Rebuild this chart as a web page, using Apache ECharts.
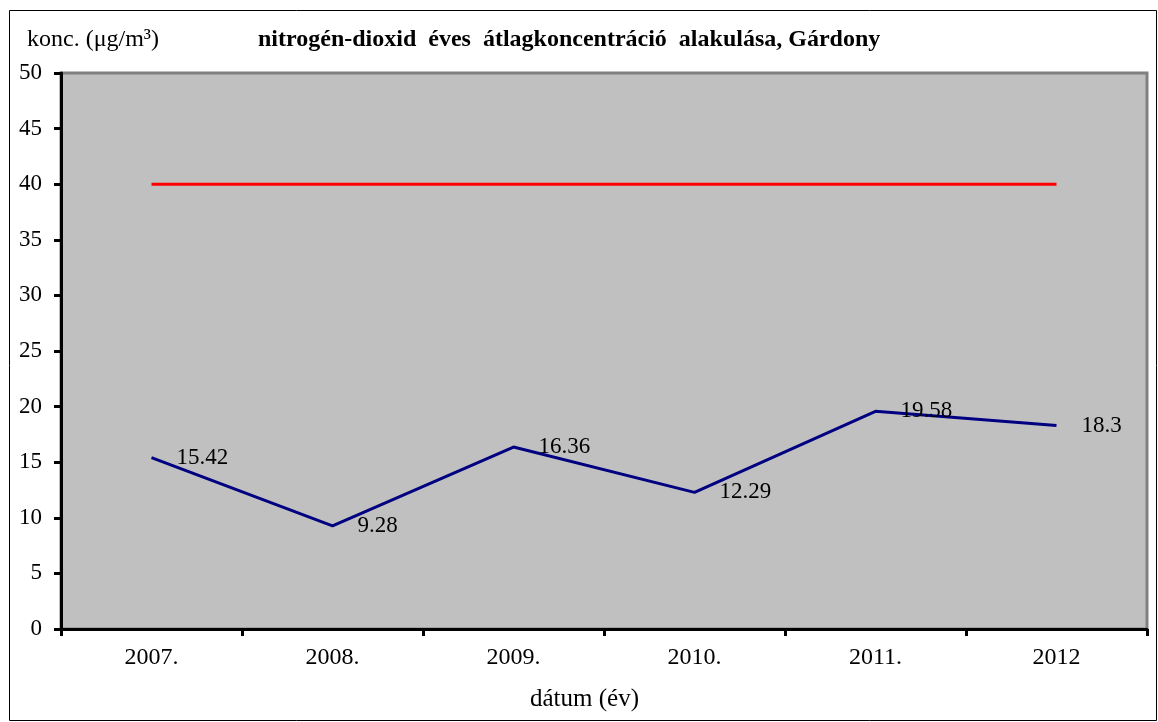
<!DOCTYPE html>
<html><head><meta charset="utf-8">
<script src="https://cdn.jsdelivr.net/npm/echarts@6/dist/echarts.min.js"></script>
<style>html,body{margin:0;padding:0;background:#fff}#c{width:1158px;height:722px}</style>
</head><body><div id="c"></div>
<script>
var categories = ['2007.', '2008.', '2009.', '2010.', '2011.', '2012'];
var no2Values = [15.42, 9.28, 16.36, 12.29, 19.58, 18.3];
var limitValues = [40, 40, 40, 40, 40, 40];
var yMin = 0, yMax = 50, yStep = 5;
var titleText = 'nitrogén-dioxid\u00a0 éves\u00a0 átlagkoncentráció\u00a0 alakulása, Gárdony';
var yName = 'konc. (μg/m³)';
var xName = 'dátum (év)';

var F = 'Liberation Serif, Times New Roman, serif';
var chart = echarts.init(document.getElementById('c'), null, {renderer: 'canvas'});
chart.setOption({
  backgroundColor: '#fff',
  animation: false,
  grid: {left: 61, right: 11, top: 73, bottom: 93, show: true, backgroundColor: '#C0C0C0', borderColor: '#808080', borderWidth: 3},
  graphic: [
    {type: 'rect', shape: {x: 9.5, y: 10.5, width: 1147, height: 710}, style: {fill: 'none', stroke: '#000', lineWidth: 1}, z: -1},
    {type: 'text', left: 27, top: 28, style: {text: yName, font: '24px ' + F, fill: '#000'}},
    {type: 'text', left: 258, top: 28, style: {text: titleText, font: 'bold 24px ' + F, fill: '#000'}},
    {type: 'text', left: 530, top: 687, style: {text: xName, font: '25px ' + F, fill: '#000'}}
  ],
  xAxis: {
    type: 'category', data: categories, boundaryGap: true,
    axisLine: {lineStyle: {color: '#000', width: 3}},
    axisTick: {show: true, alignWithLabel: false, length: 7, lineStyle: {color: '#000', width: 3}},
    axisLabel: {color: '#000', fontSize: 24, fontFamily: F, margin: 17},
    splitLine: {show: false}
  },
  yAxis: {
    type: 'value', min: yMin, max: yMax, interval: yStep,
    axisLine: {show: true, lineStyle: {color: '#000', width: 3}},
    axisTick: {show: true, length: 7, lineStyle: {color: '#000', width: 3}},
    axisLabel: {color: '#000', fontSize: 23, fontFamily: F, margin: 19},
    splitLine: {show: false}
  },
  series: [
    {type: 'line', data: limitValues, symbol: 'none', lineStyle: {color: '#FF0000', width: 3}, itemStyle: {color: '#FF0000'}, z: 2},
    {type: 'line', data: no2Values, symbol: 'circle', symbolSize: 0, showSymbol: true,
     lineStyle: {color: '#000080', width: 3}, itemStyle: {color: '#000080'},
     label: {show: true, position: 'right', distance: 25, color: '#000', fontSize: 23, fontFamily: F}, z: 3}
  ]
});
</script></body></html>
